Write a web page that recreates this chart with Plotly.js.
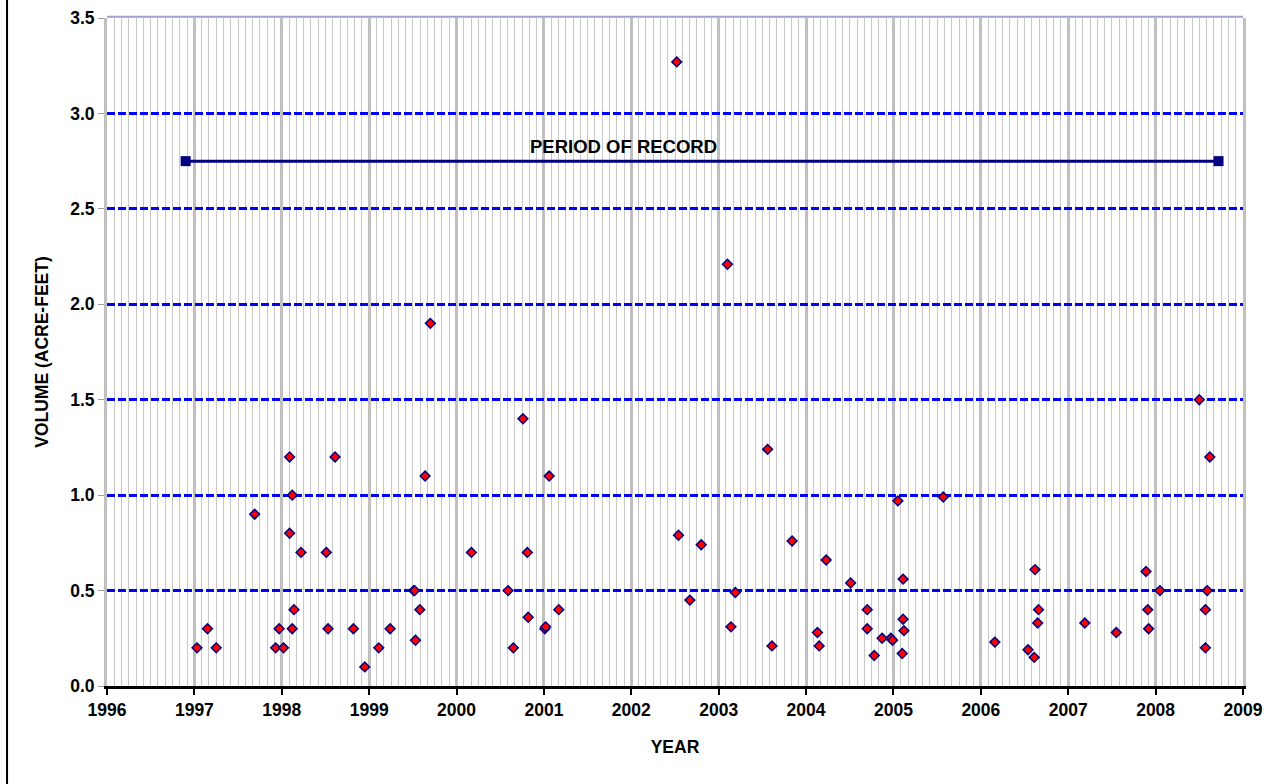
<!DOCTYPE html>
<html>
<head>
<meta charset="utf-8">
<script src="https://cdn.plot.ly/plotly-3.0.1.min.js"></script>
<style>html,body{margin:0;padding:0;background:#fff;}#chart{width:1275px;height:784px;}</style>
</head>
<body>
<div id="chart"></div>
<script>
// Event dates (decimal years) and volumes (acre-feet)
const eventYears = [
  1997.03,1997.15,1997.25,1997.69,1997.93,1997.97,1998.02,1998.09,1998.12,1998.09,
  1998.12,1998.14,1998.22,1998.51,1998.53,1998.61,1998.82,1998.95,1999.11,1999.24,
  1999.51,1999.52,1999.53,1999.58,1999.64,1999.70,2000.17,2000.59,2000.65,2000.76,
  2000.81,2000.82,2001.01,2001.02,2001.06,2001.17,2002.52,2002.54,2002.67,2002.80,
  2003.10,2003.14,2003.19,2003.56,2003.61,2003.84,2004.13,2004.15,2004.23,2004.51,
  2004.70,2004.70,2004.78,2004.87,2004.97,2004.99,2005.05,2005.10,2005.11,2005.11,
  2005.12,2005.57,2006.16,2006.54,2006.61,2006.62,2006.66,2006.65,2007.19,2007.55,
  2007.89,2007.91,2007.92,2008.05,2008.50,2008.62,2008.59,2008.57,2008.57
];
const eventVolumes = [
  0.20,0.30,0.20,0.90,0.20,0.30,0.20,1.20,1.00,0.80,
  0.30,0.40,0.70,0.70,0.30,1.20,0.30,0.10,0.20,0.30,
  0.50,0.50,0.24,0.40,1.10,1.90,0.70,0.50,0.20,1.40,
  0.70,0.36,0.30,0.31,1.10,0.40,3.27,0.79,0.45,0.74,
  2.21,0.31,0.49,1.24,0.21,0.76,0.28,0.21,0.66,0.54,
  0.40,0.30,0.16,0.25,0.25,0.24,0.97,0.17,0.56,0.35,
  0.29,0.99,0.23,0.19,0.15,0.61,0.40,0.33,0.33,0.28,
  0.60,0.40,0.30,0.50,1.50,1.20,0.50,0.40,0.20
];
// Period of record
const periodYears = [1996.90, 2008.72];
const periodLevel = [2.75, 2.75];
const periodLabel = "PERIOD OF RECORD";
const xTitle = "YEAR";
const yTitle = "VOLUME (ACRE-FEET)";

const fontFam = '"Liberation Sans", Arial, sans-serif';

const traces = [
  {
    x: periodYears, y: periodLevel, type: 'scatter', mode: 'lines+markers',
    line: {color: '#000080', width: 3},
    marker: {symbol: 'square', size: 10, color: '#000080'},
    hoverinfo: 'skip', showlegend: false
  },
  {
    x: eventYears, y: eventVolumes, type: 'scatter', mode: 'markers',
    marker: {symbol: 'diamond', size: 7.5, color: '#ff0000', line: {color: '#000080', width: 1.5}},
    showlegend: false
  }
];

const layout = {
  width: 1275, height: 784,
  margin: {l: 107, r: 32, t: 18, b: 98, pad: 0},
  paper_bgcolor: '#ffffff', plot_bgcolor: '#ffffff',
  font: {family: fontFam, color: '#000', size: 17},
  xaxis: {
    range: [1996, 2009], tickmode: 'linear', tick0: 1996, dtick: 1,
    showgrid: true, gridcolor: '#c0c0c0', gridwidth: 3,
    minor: {dtick: 1/12, tick0: 1996, showgrid: true, gridcolor: '#c8c8c8', gridwidth: 1, ticks: ''},
    showline: true, linecolor: '#000', linewidth: 3,
    ticks: 'outside', ticklen: 6, tickwidth: 2, tickcolor: '#000',
    tickfont: {family: fontFam, size: 17.5, color: '#000', weight: 'bold'},
    zeroline: false,
    title: {text: '<b>' + xTitle + '</b>', font: {family: fontFam, size: 17.5, color: '#000'}, standoff: 22}
  },
  yaxis: {
    range: [0, 3.5], tickmode: 'linear', tick0: 0, dtick: 0.5, tickformat: '.1f',
    showgrid: true, gridcolor: '#0000ff', gridwidth: 3, griddash: '8px,3px',
    showline: true, linecolor: '#c0c0c0', linewidth: 3, mirror: true,
    ticks: 'outside', ticklen: 6, tickwidth: 1, tickcolor: '#a0a0a0',
    tickfont: {family: fontFam, size: 17.5, color: '#000', weight: 'bold'},
    zeroline: false,
    title: {text: '<b>' + yTitle + '</b>', font: {family: fontFam, size: 17.5, color: '#000'}, standoff: 18}
  },
  annotations: [
    {x: (periodYears[0] + periodYears[1]) / 2 - 0.9, y: periodLevel[0], xref: 'x', yref: 'y',
     text: '<b>' + periodLabel + '</b>', showarrow: false, yanchor: 'bottom', yshift: 2,
     font: {family: fontFam, size: 18.5, color: '#000'}}
  ],
  shapes: [
    {type: 'line', xref: 'paper', yref: 'paper', x0: 0, x1: 1, y0: 1.002, y1: 1.002,
     line: {color: '#a0a0d0', width: 2}, layer: 'above'},
    {type: 'line', xref: 'paper', yref: 'paper', x0: -0.088, x1: -0.088, y0: -0.2, y1: 1.1,
     line: {color: '#000', width: 2}}
  ]
};

Plotly.newPlot('chart', traces, layout, {displayModeBar: false, staticPlot: true});
</script>
</body>
</html>
